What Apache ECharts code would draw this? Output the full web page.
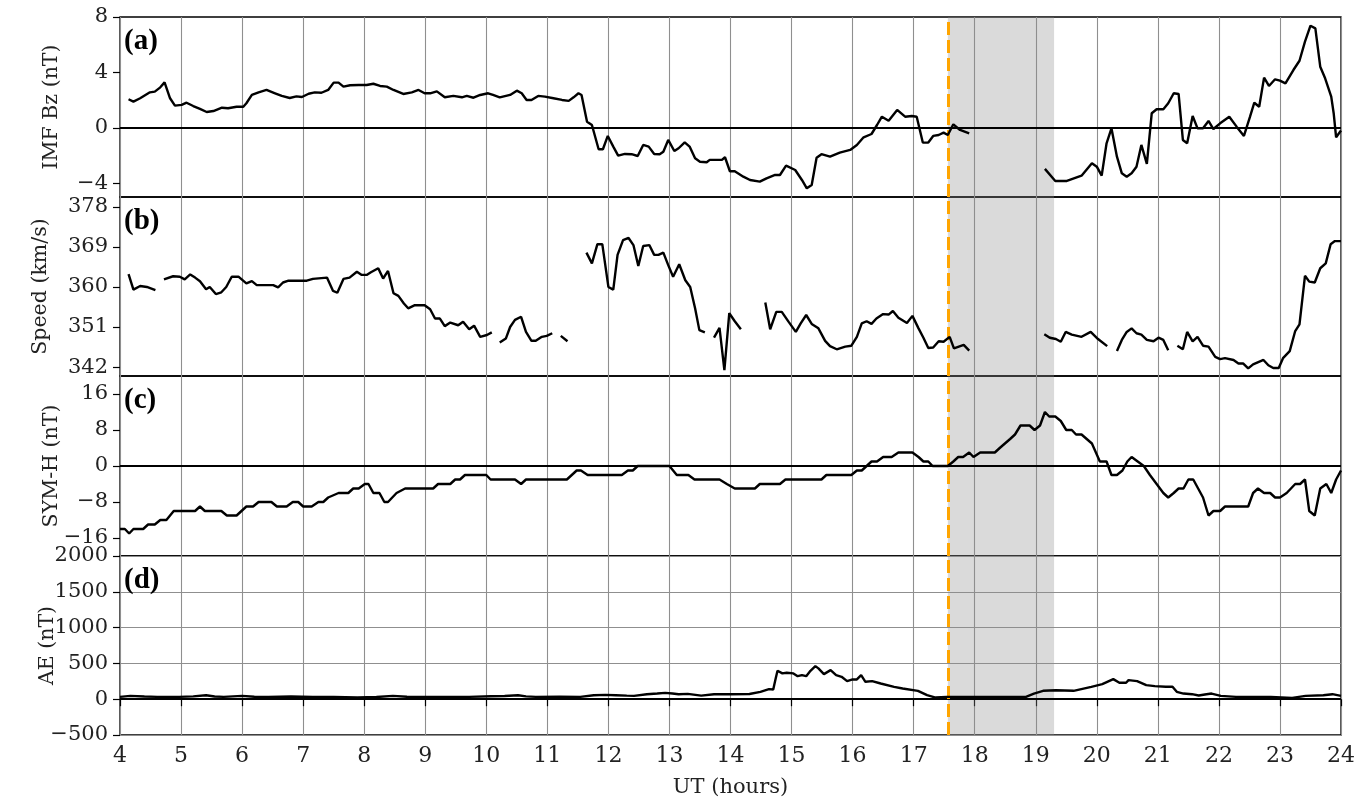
<!DOCTYPE html>
<html>
<head>
<meta charset="utf-8">
<title>IMF Bz, solar wind speed, SYM-H and AE</title>
<script src="https://cdn.jsdelivr.net/npm/echarts@6/dist/echarts.min.js"></script>
<style>
  html, body { margin: 0; padding: 0; background: #fff; }
  #chart { width: 1366px; height: 801px; }
</style>
</head>
<body>
<div id="chart"></div>
<script>
// ---- time axis (UT hours) ----
const hourTicks = [4, 5, 6, 7, 8, 9, 10, 11, 12, 13, 14, 15, 16, 17, 18, 19, 20, 21, 22, 23, 24];

// ---- marked interval ----
const onsetHour = 17.56;
const spanEndHour = 19.3;

// ---- (a) IMF Bz (nT); null marks a data gap ----
const bzTime = [4.14,4.22,4.33,4.49,4.57,4.66,4.73,4.82,4.90,5.01,5.09,5.20,5.31,5.42,5.53,5.67,5.77,5.91,6.02,6.07,6.16,6.27,6.40,6.54,6.65,6.78,6.89,6.98,7.09,7.19,7.30,7.41,7.50,7.58,7.66,7.77,7.91,8.04,8.15,8.26,8.37,8.48,8.64,8.78,8.89,8.99,9.08,9.19,9.32,9.46,9.60,9.68,9.79,9.90,10.03,10.11,10.22,10.39,10.50,10.58,10.66,10.74,10.85,10.96,11.10,11.24,11.35,11.43,11.51,11.56,11.65,11.73,11.84,11.91,11.99,12.08,12.16,12.27,12.38,12.48,12.57,12.66,12.75,12.84,12.90,12.98,13.08,13.15,13.25,13.33,13.42,13.50,13.61,13.66,13.86,13.91,13.99,14.07,14.21,14.32,14.48,14.59,14.73,14.81,14.91,15.06,15.17,15.25,15.33,15.41,15.49,15.63,15.79,15.96,16.07,16.18,16.31,16.40,16.48,16.59,16.73,16.86,16.97,17.05,17.15,17.24,17.32,17.41,17.49,17.56,17.65,17.76,17.91,18.5,19.15,19.32,19.51,19.75,19.92,20.00,20.08,20.16,20.24,20.33,20.41,20.49,20.57,20.65,20.73,20.82,20.90,20.98,21.09,21.17,21.26,21.34,21.41,21.48,21.57,21.65,21.74,21.83,21.91,22.02,22.17,22.29,22.41,22.51,22.58,22.66,22.74,22.82,22.92,23.00,23.09,23.22,23.32,23.41,23.50,23.58,23.66,23.74,23.84,23.88,23.92,24.00];
const bzValue = [2.06,1.89,2.13,2.56,2.61,2.92,3.28,2.13,1.60,1.65,1.81,1.57,1.36,1.14,1.21,1.45,1.41,1.52,1.52,1.77,2.37,2.56,2.73,2.49,2.30,2.15,2.27,2.22,2.46,2.56,2.53,2.73,3.26,3.26,2.97,3.07,3.09,3.09,3.18,3.02,2.97,2.73,2.44,2.56,2.73,2.49,2.49,2.63,2.20,2.30,2.20,2.30,2.17,2.37,2.49,2.37,2.20,2.37,2.68,2.49,2.01,2.01,2.30,2.25,2.13,2.01,1.94,2.20,2.49,2.37,0.44,0.20,-1.55,-1.55,-0.59,-1.36,-2.01,-1.89,-1.91,-2.04,-1.24,-1.36,-1.89,-1.91,-1.73,-0.88,-1.68,-1.48,-1.05,-1.36,-2.20,-2.45,-2.49,-2.32,-2.32,-2.13,-3.14,-3.14,-3.53,-3.77,-3.89,-3.65,-3.41,-3.41,-2.74,-3.05,-3.77,-4.37,-4.13,-2.16,-1.91,-2.09,-1.80,-1.60,-1.24,-0.69,-0.45,0.20,0.80,0.51,1.29,0.80,0.85,0.80,-1.07,-1.07,-0.59,-0.52,-0.35,-0.52,0.25,-0.16,-0.40,null,-2.97,-3.84,-3.84,-3.46,-2.56,-2.81,-3.46,-1.12,-0.04,-2.09,-3.29,-3.53,-3.29,-2.81,-1.24,-2.61,1.05,1.34,1.34,1.77,2.49,2.44,-0.88,-1.12,0.85,-0.04,-0.04,0.49,-0.09,0.32,0.80,0.08,-0.59,0.80,1.81,1.52,3.62,3.02,3.50,3.40,3.21,4.17,4.84,6.22,7.37,7.18,4.41,3.57,2.25,1.05,-0.69,-0.20];

// ---- (b) solar wind speed (km/s); null marks a data gap ----
const speedTime = [4.14,4.22,4.33,4.44,4.58,4.65,4.72,4.87,4.98,5.06,5.15,5.23,5.31,5.41,5.47,5.57,5.66,5.74,5.83,5.94,6.07,6.16,6.24,6.40,6.51,6.59,6.67,6.76,7.06,7.16,7.39,7.44,7.49,7.56,7.66,7.76,7.88,7.96,8.04,8.11,8.23,8.31,8.39,8.48,8.56,8.65,8.72,8.83,8.99,9.08,9.16,9.24,9.32,9.41,9.54,9.62,9.72,9.80,9.90,10.01,10.09,10.15,10.22,10.32,10.39,10.47,10.57,10.65,10.74,10.81,10.91,10.99,11.08,11.15,11.22,11.33,11.5,11.64,11.73,11.82,11.90,12.00,12.08,12.15,12.24,12.33,12.41,12.49,12.57,12.67,12.75,12.82,12.90,12.98,13.06,13.16,13.26,13.34,13.42,13.49,13.58,13.65,13.73,13.82,13.90,13.98,14.07,14.17,14.4,14.57,14.65,14.75,14.84,14.95,15.07,15.15,15.24,15.33,15.44,15.55,15.63,15.74,15.88,15.98,16.07,16.15,16.23,16.31,16.39,16.50,16.59,16.66,16.75,16.89,16.98,17.08,17.16,17.24,17.32,17.41,17.49,17.59,17.66,17.74,17.82,17.91,18.5,19.14,19.23,19.33,19.41,19.49,19.59,19.75,19.90,20.02,20.17,20.25,20.33,20.41,20.49,20.57,20.65,20.73,20.82,20.93,21.01,21.09,21.17,21.25,21.32,21.41,21.48,21.57,21.65,21.74,21.83,21.94,22.02,22.10,22.24,22.32,22.40,22.48,22.56,22.73,22.81,22.89,22.98,23.05,23.16,23.25,23.32,23.41,23.48,23.57,23.66,23.75,23.83,23.90,24.00];
const speedValue = [362.9,359.4,360.2,360.0,359.3,null,361.7,362.4,362.3,361.7,362.8,362.1,361.3,359.5,360.0,358.4,358.8,360.0,362.3,362.3,360.8,361.3,360.4,360.4,360.4,359.9,361.0,361.4,361.4,361.8,362.1,360.6,359.1,358.7,361.8,362.1,363.4,362.7,362.7,363.3,364.2,361.9,363.6,358.6,358.0,356.3,355.2,355.9,355.9,355.0,352.9,352.9,351.2,352.0,351.4,352.2,350.5,351.3,348.8,349.2,349.8,null,347.5,348.4,351.0,352.6,353.3,349.9,347.9,347.9,348.8,349.0,349.6,null,349.0,347.8,null,367.7,365.3,369.6,369.6,360.0,359.4,367.2,370.5,371.0,369.4,364.7,369.2,369.4,367.2,367.2,367.7,364.9,362.3,365.1,361.5,360.0,355.2,350.3,349.8,null,348.6,350.8,341.3,354.1,352.3,350.5,null,356.5,350.5,354.4,354.4,352.2,349.9,351.8,353.7,351.7,350.7,347.9,346.7,346.0,346.6,346.8,348.8,351.8,352.3,351.7,352.9,353.9,353.8,354.6,353.1,351.9,353.5,350.7,348.6,346.3,346.4,347.8,347.7,348.8,346.2,346.6,347.0,345.7,null,349.4,348.6,348.3,347.7,349.9,349.3,348.8,349.9,348.3,346.7,null,345.6,348.1,349.9,350.7,349.6,349.3,348.1,347.8,348.6,348.1,345.8,null,346.8,346.0,349.9,347.8,348.8,346.8,346.6,344.3,343.8,344.0,343.6,342.8,342.8,341.7,342.6,343.6,342.4,341.8,341.8,344.0,345.6,350.1,351.6,362.5,361.2,361.0,364.2,365.3,369.6,370.3,370.3];

// ---- (c) SYM-H (nT) ----
const symTime = [4.00,4.08,4.15,4.22,4.38,4.46,4.57,4.66,4.76,4.88,5.23,5.31,5.39,5.66,5.75,5.91,6.07,6.18,6.27,6.48,6.57,6.73,6.83,6.92,7.00,7.14,7.25,7.33,7.41,7.58,7.74,7.82,7.91,8.01,8.07,8.15,8.25,8.33,8.39,8.53,8.67,9.13,9.21,9.41,9.49,9.57,9.65,10.00,10.07,10.47,10.57,10.65,11.32,11.48,11.55,11.66,12.22,12.32,12.40,12.48,13.00,13.12,13.31,13.41,13.82,13.94,14.07,14.40,14.48,14.81,14.90,15.49,15.57,15.98,16.07,16.15,16.23,16.31,16.40,16.50,16.64,16.75,16.98,17.08,17.16,17.24,17.31,17.56,17.65,17.73,17.81,17.91,17.98,18.09,18.33,18.41,18.58,18.66,18.75,18.90,18.98,19.07,19.15,19.22,19.32,19.41,19.50,19.59,19.66,19.75,19.92,20.05,20.16,20.24,20.33,20.42,20.50,20.57,20.67,20.77,20.87,20.98,21.09,21.17,21.26,21.34,21.42,21.50,21.58,21.66,21.74,21.83,21.91,22.02,22.10,22.48,22.56,22.64,22.74,22.84,22.92,23.00,23.11,23.25,23.33,23.41,23.48,23.57,23.66,23.76,23.84,23.92,24.00];
const symValue = [-14,-14,-15,-14,-14,-13,-13,-12,-12,-10,-10,-9,-10,-10,-11,-11,-9,-9,-8,-8,-9,-9,-8,-8,-9,-9,-8,-8,-7,-6,-6,-5,-5,-4,-4,-6,-6,-8,-8,-6,-5,-5,-4,-4,-3,-3,-2,-2,-3,-3,-4,-3,-3,-1,-1,-2,-2,-1,-1,0,0,-2,-2,-3,-3,-4,-5,-5,-4,-4,-3,-3,-2,-2,-1,-1,0,1,1,2,2,3,3,2,1,1,0,0,1,2,2,3,2,3,3,4,6,7,9,9,8,9,12,11,11,10,8,8,7,7,5,1,1,-2,-2,-1,1,2,1,0,-2,-4,-6,-7,-6,-5,-5,-3,-3,-5,-7,-11,-10,-10,-9,-9,-6,-5,-6,-6,-7,-7,-6,-4,-4,-3,-10,-11,-5,-4,-6,-3,-1];

// ---- (d) AE (nT) ----
const aeTime = [4.00,4.17,4.40,4.61,4.97,5.20,5.41,5.55,5.70,6.00,6.20,6.43,6.80,7.16,7.50,7.89,8.20,8.47,8.70,8.98,9.35,9.72,10.08,10.30,10.52,10.65,10.81,11.20,11.54,11.76,11.95,12.12,12.30,12.42,12.63,12.80,12.93,13.05,13.15,13.30,13.52,13.73,14.00,14.31,14.49,14.63,14.70,14.74,14.77,14.85,14.92,15.03,15.10,15.17,15.24,15.31,15.39,15.44,15.53,15.64,15.73,15.82,15.91,16.00,16.07,16.14,16.21,16.32,16.46,16.68,16.82,17.07,17.22,17.36,17.54,17.75,18.19,18.62,18.84,18.97,19.12,19.33,19.62,19.91,20.09,20.27,20.37,20.48,20.52,20.66,20.81,20.95,21.13,21.24,21.31,21.42,21.56,21.67,21.77,21.88,22.03,22.28,22.56,22.85,22.88,23.20,23.42,23.71,23.86,24.00];
const aeValue = [33,47,38,33,33,40,56,38,33,47,35,33,38,33,30,23,30,47,35,33,30,33,42,45,56,40,33,35,33,56,60,56,50,47,70,80,89,80,70,75,50,70,70,72,103,140,135,290,397,360,369,360,322,336,322,397,462,430,350,406,336,313,252,276,276,336,243,252,219,173,149,117,56,23,33,33,33,33,33,79,117,126,117,173,210,280,229,229,266,252,196,182,173,173,103,79,70,51,65,79,47,33,33,33,9,19,47,56,70,47];

// ---- y-axis tick labels ----
const bzTicks = [-4, 0, 4, 8];
const speedTicks = [342, 351, 360, 369, 378];
const symTicks = [-16, -8, 0, 8, 16];
const aeTicks = [-500, 0, 500, 1000, 1500, 2000];
const panelTitles = ['IMF Bz (nT)', 'Speed (km/s)', 'SYM-H (nT)', 'AE (nT)'];
const panelTags = ['(a)', '(b)', '(c)', '(d)'];

const SERIF = '"DejaVu Serif", serif';
const pairs = (t, v) => t.map((x, i) => [x, v[i]]);
const minus = s => String(s).replace('-', '\u2212');

// panel rectangles (top, height)
const panels = [
  { top: 17, height: 180 },
  { top: 197, height: 179 },
  { top: 376, height: 180 },
  { top: 556, height: 179 }
];

const grids = panels.map(p => ({
  left: 120, right: 25, top: p.top, height: p.height,
  show: true, borderColor: '#000', borderWidth: 1.3, backgroundColor: 'transparent'
}));

const xAxes = panels.map((p, i) => {
  const bottom = i === panels.length - 1;
  return {
    type: 'value', gridIndex: i, min: hourTicks[0], max: hourTicks[hourTicks.length - 1], interval: 1,
    axisLine: { show: false },
    axisTick: { show: bottom, length: 7, inside: false, lineStyle: { color: '#000', width: 1.2 } },
    axisLabel: { show: bottom, fontFamily: SERIF, fontSize: 22, color: '#222', margin: 10 },
    splitLine: { show: true, lineStyle: { color: '#8f8f8f', width: 1.1 } },
    name: bottom ? 'UT (hours)' : '',
    nameLocation: 'middle', nameGap: 42, nameMoveOverlap: false,
    nameTextStyle: { fontFamily: SERIF, fontSize: 21, color: '#222' }
  };
});

function yAxis(i, min, max, ticks, gap, extra) {
  return Object.assign({
    type: 'value', gridIndex: i, min: min, max: max,
    axisLine: { show: false },
    axisTick: { show: true, length: 7, inside: false, customValues: ticks, lineStyle: { color: '#000', width: 1.2 } },
    axisLabel: { fontFamily: SERIF, fontSize: 21, color: '#222', margin: 12, customValues: ticks, formatter: v => minus(v) },
    splitLine: { show: false },
    name: panelTitles[i], nameLocation: 'middle', nameRotate: 90, nameGap: gap, nameMoveOverlap: false,
    nameTextStyle: { fontFamily: SERIF, fontSize: 20.5, color: '#222' }
  }, extra || {});
}

const yAxes = [
  yAxis(0, -5, 8, bzTicks, 58),
  yAxis(1, 340, 380.2, speedTicks, 69),
  yAxis(2, -20, 20, symTicks, 58),
  yAxis(3, -500, 2000, aeTicks, 62, {
    interval: 500,
    splitLine: { show: true, lineStyle: { color: '#8f8f8f', width: 1.1 } }
  })
];

const onsetLine = {
  xAxis: onsetHour,
  lineStyle: { color: '#FFA500', width: 3, type: [13, 5] }
};
const zeroLine = {
  yAxis: 0,
  lineStyle: { color: '#000', width: 2, type: 'solid' }
};

function panelSeries(i, t, v, withZero) {
  return {
    type: 'line', xAxisIndex: i, yAxisIndex: i,
    data: pairs(t, v),
    showSymbol: false, symbol: 'none', connectNulls: false, animation: false,
    lineStyle: { color: '#000', width: 2.4 },
    z: 5,
    markLine: {
      silent: true, symbol: ['none', 'none'], label: { show: false }, animation: false,
      data: withZero ? [zeroLine, onsetLine] : [onsetLine]
    },
    markArea: {
      silent: true, animation: false,
      itemStyle: { color: 'rgba(140,140,140,0.32)' },
      data: [[{ xAxis: onsetHour }, { xAxis: spanEndHour }]]
    }
  };
}

const series = [
  panelSeries(0, bzTime, bzValue, true),
  panelSeries(1, speedTime, speedValue, false),
  panelSeries(2, symTime, symValue, true),
  panelSeries(3, aeTime, aeValue, true)
];

const tags = panels.map((p, i) => ({
  type: 'text', left: 124, top: p.top + 10, z: 50,
  style: { text: panelTags[i], font: 'bold 29px "Liberation Serif", serif', fill: '#000' }
}));

const chart = echarts.init(document.getElementById('chart'), null, { renderer: 'canvas' });
chart.setOption({
  animation: false,
  backgroundColor: '#fff',
  grid: grids,
  xAxis: xAxes,
  yAxis: yAxes,
  series: series,
  graphic: tags
});
</script>
</body>
</html>
